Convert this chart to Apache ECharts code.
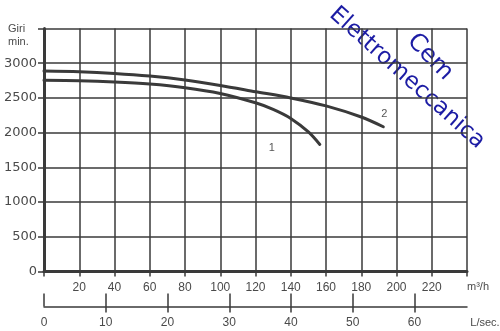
<!DOCTYPE html>
<html>
<head>
<meta charset="utf-8">
<script src="https://cdn.jsdelivr.net/npm/echarts@6/dist/echarts.min.js"></script>
<style>
  html, body { margin: 0; padding: 0; background: #fff; }
  #chart { width: 500px; height: 331px; }
</style>
</head>
<body>
<div id="chart"></div>
<script>
// curve 1 and 2: portata (m3/h) -> giri/min
const flow1 = [0, 20, 40, 60, 80, 100, 120, 130, 140, 150, 156.5]
const rpm1 = [2755, 2748, 2730, 2700, 2648, 2565, 2430, 2335, 2205, 2010, 1830]
const flow2 = [0, 20, 40, 60, 80, 100, 120, 140, 160, 180, 192.5]
const rpm2 = [2887, 2877, 2853, 2815, 2758, 2680, 2590, 2500, 2385, 2225, 2085]

const m3hLabels = [20, 40, 60, 80, 100, 120, 140, 160, 180, 200, 220]
const lsecTicks = [0, 10, 20, 30, 40, 50, 60]

const ink = '#3a3a3a'
const txt = '#4a4a4a'

const chart = echarts.init(document.getElementById('chart'))

const pairs = (xs, ys) => xs.map((x, i) => [x, ys[i]])

chart.setOption({
  animation: false,
  backgroundColor: '#fff',
  grid: { left: 44, right: 33, top: 28.5, bottom: 59.5, outerBoundsMode: 'none', containLabel: false },
  xAxis: [
    {
      type: 'value',
      min: 0,
      max: 240,
      interval: 20,
      name: 'm³/h',
      nameLocation: 'end',
      nameGap: 0,
      nameTextStyle: { color: txt, fontSize: 11, fontFamily: 'Liberation Sans', align: 'center', verticalAlign: 'top', padding: [10, 0, 0, 22] },
      axisLine: { show: true, lineStyle: { color: ink, width: 3 } },
      axisTick: { show: true, length: 5, lineStyle: { color: ink, width: 1.5 } },
      axisLabel: {
        color: txt,
        fontSize: 12,
        fontFamily: 'Liberation Sans',
        margin: 10,
        customValues: m3hLabels
      },
      splitLine: { show: true, lineStyle: { color: ink, width: 1.5 } }
    },
    {
      type: 'value',
      position: 'bottom',
      offset: 35,
      min: 0,
      max: 68.5,
      name: 'L/sec.',
      nameLocation: 'end',
      nameGap: 0,
      nameTextStyle: { color: txt, fontSize: 11, fontFamily: 'Liberation Sans', align: 'center', verticalAlign: 'top', padding: [11, 0, 0, 36] },
      axisLine: { show: true, lineStyle: { color: ink, width: 1.5 } },
      axisTick: { show: true, inside: true, length: 13, customValues: lsecTicks, lineStyle: { color: ink, width: 1.5 } },
      axisLabel: { color: txt, fontSize: 12, fontFamily: 'Liberation Sans', margin: 10, customValues: lsecTicks },
      splitLine: { show: false }
    },
    {
      // lower half of the crossing ticks on the L/sec scale
      type: 'value',
      position: 'bottom',
      offset: 35,
      min: 0,
      max: 68.5,
      axisLine: { show: false },
      axisTick: { show: true, length: 6, customValues: lsecTicks.slice(1), lineStyle: { color: ink, width: 1.5 } },
      axisLabel: { show: false },
      splitLine: { show: false }
    }
  ],
  yAxis: {
    type: 'value',
    min: 0,
    max: 3500,
    interval: 500,
    axisLine: { show: true, lineStyle: { color: ink, width: 3 } },
    axisTick: { show: true, length: 6, lineStyle: { color: ink, width: 1.5 } },
    axisLabel: {
      color: txt,
      fontSize: 13,
      fontFamily: 'DejaVu Sans',
      margin: 7,
      formatter: v => (v === 3500 ? '' : String(v))
    },
    splitLine: { show: true, lineStyle: { color: ink, width: 1.5 } }
  },
  graphic: [
    {
      type: 'text',
      left: 8,
      top: 22,
      style: { text: 'Giri\nmin.', fill: txt, font: '11px "Liberation Sans"', align: 'center', lineHeight: 13, width: 28 }
    },
    {
      type: 'text',
      x: 407, y: 78,
      rotation: -0.73,
      style: { text: 'Elettromeccanica', fill: '#1c1ca4', font: '23px "DejaVu Sans"', align: 'center', verticalAlign: 'middle' }
    },
    {
      type: 'text',
      x: 430, y: 57,
      rotation: -0.8,
      style: { text: 'Cem', fill: '#1c1ca4', font: '24px "DejaVu Sans"', align: 'center', verticalAlign: 'middle' }
    }
  ],
  series: [
    {
      name: '1',
      type: 'line',
      smooth: 0.3,
      showSymbol: false,
      data: pairs(flow1, rpm1),
      lineStyle: { color: ink, width: 3, cap: 'round' },
      endLabel: { show: true, formatter: '1', color: '#555', fontSize: 11, fontFamily: 'Liberation Sans', distance: 0, align: 'center', verticalAlign: 'middle', offset: [-48, 4] }
    },
    {
      name: '2',
      type: 'line',
      smooth: 0.3,
      showSymbol: false,
      data: pairs(flow2, rpm2),
      lineStyle: { color: ink, width: 3, cap: 'round' },
      endLabel: { show: true, formatter: '2', color: '#555', fontSize: 11, fontFamily: 'Liberation Sans', distance: 0, align: 'center', verticalAlign: 'middle', offset: [1, -13] }
    }
  ]
})
</script>
</body>
</html>
